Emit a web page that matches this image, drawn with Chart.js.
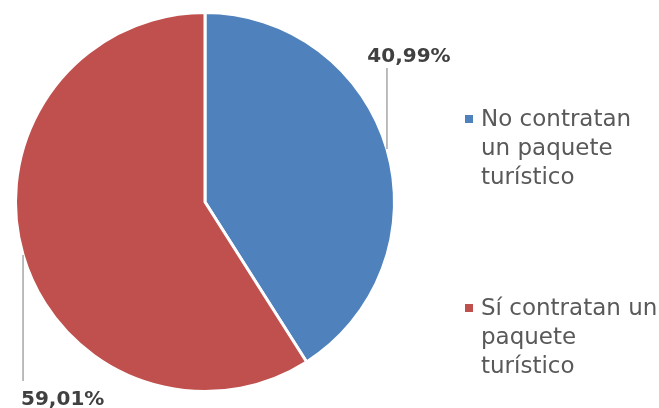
<!DOCTYPE html>
<html>
<head>
<meta charset="utf-8">
<script src="https://cdn.jsdelivr.net/npm/chart.js@4.4.1/dist/chart.umd.min.js"></script>
<style>
  html, body { margin: 0; padding: 0; background: #fff; }
  #wrap { position: relative; width: 659px; height: 408px; }
</style>
</head>
<body>
<div id="wrap"><canvas id="out"></canvas></div>
<script>
// data
const categories = ["No contratan un paquete turístico", "Sí contratan un paquete turístico"];
const legendLines = [["No contratan", "un paquete", "turístico"], ["Sí contratan un", "paquete", "turístico"]];
const shares = [40.99, 59.01];
const valueLabels = ["40,99%", "59,01%"];
const colors = ["#4F81BD", "#C0504D"];

const FONT = "'DejaVu Sans', sans-serif";

// leader lines + value labels, and wrapped legend on the right
const labelPlugin = {
  id: "labelPlugin",
  afterDraw(chart) {
    const ctx = chart.ctx;
    const meta = chart.getDatasetMeta(0);
    ctx.save();
    meta.data.forEach(function(arc, i) {
      const mid = (arc.startAngle + arc.endAngle) / 2;
      const x = arc.x + Math.cos(mid) * arc.outerRadius;
      const y = arc.y + Math.sin(mid) * arc.outerRadius;
      const up = Math.sin(mid) < 0;
      const endY = up ? y - 81 : y + 126;
      ctx.strokeStyle = "#A6A6A6";
      ctx.lineWidth = 1.5;
      ctx.beginPath();
      ctx.moveTo(x, y);
      ctx.lineTo(x, endY);
      ctx.stroke();
      ctx.fillStyle = "#404040";
      ctx.font = "bold 20px " + FONT;
      ctx.textBaseline = "alphabetic";
      if (up) {
        ctx.textAlign = "center";
        ctx.fillText(valueLabels[i], x + 22, endY - 6);
      } else {
        ctx.textAlign = "left";
        ctx.fillText(valueLabels[i], x - 2, endY + 24);
      }
    });

    // legend
    const legendTops = [126, 315];
    ctx.font = "23px " + FONT;
    ctx.textAlign = "left";
    ctx.textBaseline = "alphabetic";
    legendLines.forEach(function(lines, i) {
      ctx.fillStyle = colors[i];
      ctx.fillRect(465, legendTops[i] - 11, 8, 8);
      ctx.fillStyle = "#595959";
      lines.forEach(function(line, j) {
        ctx.fillText(line, 481, legendTops[i] + j * 29);
      });
    });
    ctx.restore();
  }
};

new Chart(document.getElementById("out").getContext("2d"), {
  type: "pie",
  data: {
    labels: categories,
    datasets: [{
      data: shares,
      backgroundColor: colors,
      borderColor: "#ffffff",
      borderWidth: 3
    }]
  },
  options: {
    responsive: true,
    maintainAspectRatio: false,
    animation: false,
    layout: { padding: { left: 14, right: 263, top: 11, bottom: 15 } },
    plugins: {
      legend: { display: false },
      tooltip: { enabled: false }
    }
  },
  plugins: [labelPlugin]
});
</script>
</body>
</html>
